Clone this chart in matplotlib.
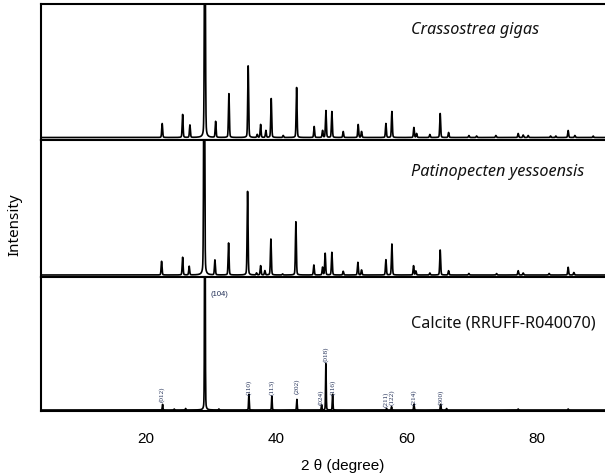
import numpy as np
import matplotlib
matplotlib.use("Agg")
import matplotlib.pyplot as plt

# ---------------- data (2θ in degrees, intensity in arbitrary units) ----------------
gigas_pos = [22.47, 25.61, 26.73, 29.03, 30.68, 32.72, 35.68, 37.07, 37.59, 38.40, 39.22,
             41.06, 43.12, 45.82, 47.11, 47.62, 48.54, 50.28, 52.58, 53.10, 56.84, 57.76,
             61.14, 61.55, 63.59, 65.18, 66.47, 69.59, 70.77, 73.73, 77.16, 77.93, 78.70,
             82.14, 82.95, 84.84, 85.87, 88.68]
gigas_int = [14, 23, 12.5, 300, 16, 44, 72, 3, 13, 7, 39,
             2, 50, 11, 7, 27, 26, 6, 13, 6, 14, 26,
             10, 4, 3, 24, 5, 2, 1.5, 2, 4, 2.5, 2,
             1.5, 1.5, 7, 2, 1.5]

yesso_pos = [22.38, 25.61, 26.62, 28.92, 30.57, 32.67, 35.59, 36.97, 37.59, 38.25, 39.17,
             40.97, 43.01, 45.77, 47.11, 47.51, 48.54, 50.28, 52.53, 53.10, 56.84, 57.76,
             61.09, 61.44, 63.59, 65.18, 66.47, 69.59, 73.84, 77.16, 77.93, 81.92, 84.84,
             85.71]
yesso_int = [13.7, 17.7, 8.7, 300, 15, 32, 83.7, 2, 9.3, 4.3, 36,
             1, 53.3, 10, 7.7, 21.7, 22.7, 3.7, 12.7, 5, 15.3, 31,
             9.3, 4, 2, 25, 4.3, 1.5, 1.5, 4.3, 2, 1.5, 7.7,
             2.5]

calcite_pos = [22.53, 24.32, 26.07, 29.03, 31.18, 35.79, 39.32, 43.16, 46.96, 47.62, 48.65,
               56.94, 57.71, 61.14, 65.24, 66.16, 77.16, 84.84]
calcite_int = [5.7, 1, 1.5, 300, 1, 15.7, 14, 10.7, 5, 46.7, 15.7,
               1.5, 3.3, 5.7, 5.7, 1.5, 1, 1]

hkl_labels = ["(012)", "(110)", "(113)", "(202)", "(024)", "(018)", "(116)",
              "(211)", "(122)", "(214)", "(300)"]
hkl_pos = [22.45, 35.79, 39.32, 43.16, 46.80, 47.62, 48.65, 56.78, 57.74, 61.14, 65.24]
hkl_y = [9.3, 16, 16, 17, 6, 49.3, 16, 4.3, 6, 6, 6]

panel_names = ["Crassostrea gigas", "Patinopecten yessoensis", "Calcite (RRUFF-R040070)"]
x_ticks = [20, 40, 60, 80]

# ---------------- drawing ----------------
W, H = 605, 477
fig = plt.figure(figsize=(W / 100, H / 100), dpi=100)

def fy(py):
    return 1 - py / H

left = 41.3 / W
right = 1.0
edges = [5, 141, 278, 412.3]
xlim = (3.9, 90.5)
x = np.linspace(xlim[0], xlim[1], 6000)

def pattern(pos, inten, sig, gam):
    y = np.zeros_like(x)
    for p, h in zip(pos, inten):
        g = np.exp(-0.5 * ((x - p) / sig) ** 2)
        l = 1.0 / (1.0 + ((x - p) / gam) ** 2)
        y += h * (0.75 * g + 0.25 * l)
    return y

series = [(gigas_pos, gigas_int, 0.07, 0.08),
          (yesso_pos, yesso_int, 0.07, 0.08),
          (calcite_pos, calcite_int, 0.05, 0.05)]
baselines = [2.5, 2.0, 1.3]
name_y = [30, 172, 323]
axes = []
for i, (pos, inten, sig, gam) in enumerate(series):
    top, bot = edges[i], edges[i + 1]
    ax = fig.add_axes([left, fy(bot), right - left, (bot - top) / H])
    y = pattern(pos, inten, sig, gam)
    ax.plot(x, y, color="black", lw=1.2)
    ax.set_xlim(*xlim)
    ax.set_ylim(-baselines[i], (bot - top) - baselines[i])
    ax.set_yticks([])
    ax.spines["right"].set_visible(False)
    for s in ["top", "bottom", "left"]:
        ax.spines[s].set_linewidth(1.5)
    ax.set_xticks(x_ticks)
    ax.tick_params(axis="x", length=0)
    if i < 2:
        ax.set_xticklabels([])
    else:
        ax.set_xticklabels([str(t) for t in x_ticks], fontsize=11,
                           family="Liberation Sans")
        ax.tick_params(axis="x", pad=14)
    style = "normal" if i == 2 else "italic"
    fig.text(411 / W, fy(name_y[i]), panel_names[i],
             fontsize=11.7, style=style, family="Noto Sans", ha="left", va="center",
             color="#111111")
    axes.append(ax)

axb = axes[2]
for lab, p, yy in zip(hkl_labels, hkl_pos, hkl_y):
    axb.text(p, yy, lab, rotation=90, fontsize=5.2, ha="center", va="bottom",
             color="#1f2d55", family="Liberation Serif")
axb.text(calcite_pos[3] + 0.8, 116, "(104)", fontsize=5.5, ha="left", va="center",
         color="#1f2d55", family="Liberation Sans")

fig.text(343 / W, fy(466), "2 θ (degree)", fontsize=11, ha="center", va="center",
         family="Liberation Sans")
fig.text(15 / W, fy(225), "Intensity", fontsize=11, rotation=90, ha="center",
         va="center", family="Noto Sans")

fig.savefig("out.png", dpi=100)
